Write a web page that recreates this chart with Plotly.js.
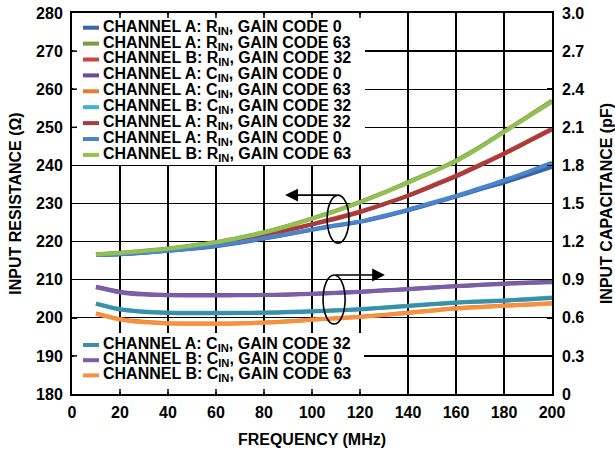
<!DOCTYPE html>
<html>
<head>
<meta charset="utf-8">
<script src="https://cdn.plot.ly/plotly-3.0.1.min.js"></script>
<style>html,body{margin:0;padding:0;background:#fff;}#chart{width:615px;height:450px;}</style>
</head>
<body>
<div id="chart"></div>
<script>
// ---- data ----
const freqMHz = [10,20,30,40,50,60,70,80,90,100,110,120,130,140,150,160,170,180,190,200];

// input resistance (ohm)
const rinA_gain0  = [216.5,216.7,217.1,217.6,218.1,218.8,219.7,220.8,221.9,223.1,224.2,225.2,226.6,228.2,230.0,231.8,233.7,235.5,237.5,239.6];
const rinA_gain63 = [216.7,217.1,217.6,218.2,219.0,219.9,221.1,222.5,224.2,226.1,228.1,230.4,232.9,235.6,238.3,241.3,244.9,248.9,252.9,257.0];
const rinB_gain32 = [216.6,216.9,217.3,217.9,218.6,219.4,220.4,221.7,223.1,224.6,226.2,227.9,229.9,232.1,234.7,237.3,240.2,243.2,246.4,249.7];
const rinA_gain32 = [216.5,216.8,217.2,217.8,218.5,219.3,220.3,221.6,223.0,224.5,226.0,227.7,229.8,232.0,234.5,237.1,240.0,243.0,246.2,249.4];
const rinB_gain0  = [216.5,216.7,217.1,217.6,218.2,218.9,219.8,220.9,222.0,223.2,224.3,225.3,226.8,228.4,230.2,232.0,234.0,236.1,238.3,240.7];
const rinB_gain63 = [216.6,217.0,217.5,218.1,218.9,219.8,221.0,222.4,224.1,226.0,228.0,230.3,232.8,235.4,238.2,241.1,244.7,248.7,252.7,256.7];

// input capacitance (pF)
const cinA_gain0  = [0.845,0.806,0.787,0.780,0.779,0.779,0.779,0.780,0.784,0.790,0.797,0.806,0.816,0.827,0.838,0.850,0.860,0.870,0.877,0.884];
const cinA_gain63 = [0.635,0.590,0.568,0.558,0.555,0.555,0.557,0.563,0.573,0.586,0.597,0.609,0.623,0.640,0.658,0.675,0.686,0.696,0.705,0.714];
const cinB_gain32 = [0.714,0.670,0.650,0.642,0.640,0.640,0.640,0.642,0.647,0.653,0.660,0.669,0.682,0.695,0.709,0.722,0.730,0.737,0.748,0.760];
const cinA_gain32 = [0.710,0.665,0.646,0.638,0.636,0.636,0.637,0.639,0.643,0.650,0.657,0.666,0.679,0.692,0.706,0.719,0.727,0.734,0.745,0.756];
const cinB_gain0  = [0.840,0.800,0.783,0.777,0.776,0.776,0.777,0.779,0.782,0.788,0.795,0.804,0.814,0.825,0.836,0.848,0.858,0.867,0.874,0.880];
const cinB_gain63 = [0.632,0.587,0.565,0.556,0.553,0.553,0.555,0.561,0.571,0.584,0.595,0.607,0.621,0.638,0.656,0.673,0.684,0.694,0.703,0.712];

const seriesNames = [
  'CHANNEL A: R<sub>IN</sub>, GAIN CODE 0',
  'CHANNEL A: R<sub>IN</sub>, GAIN CODE 63',
  'CHANNEL B: R<sub>IN</sub>, GAIN CODE 32',
  'CHANNEL A: C<sub>IN</sub>, GAIN CODE 0',
  'CHANNEL A: C<sub>IN</sub>, GAIN CODE 63',
  'CHANNEL B: C<sub>IN</sub>, GAIN CODE 32',
  'CHANNEL A: R<sub>IN</sub>, GAIN CODE 32',
  'CHANNEL A: R<sub>IN</sub>, GAIN CODE 0',
  'CHANNEL B: R<sub>IN</sub>, GAIN CODE 63',
  'CHANNEL A: C<sub>IN</sub>, GAIN CODE 32',
  'CHANNEL B: C<sub>IN</sub>, GAIN CODE 0',
  'CHANNEL B: C<sub>IN</sub>, GAIN CODE 63'
];
const seriesValues = [rinA_gain0, rinA_gain63, rinB_gain32, cinA_gain0, cinA_gain63, cinB_gain32,
                      rinA_gain32, rinB_gain0, rinB_gain63, cinA_gain32, cinB_gain0, cinB_gain63];
const seriesAxis = ['y','y','y','y2','y2','y2','y','y','y','y2','y2','y2'];
const seriesColors = ['#3d65a5','#7d9b3e','#cd4541','#6a4d9a','#dd7f2e','#3db5cf',
                      '#a93c3a','#4a84cc','#91c152','#3a90a8','#7b5ea8','#f5913f'];

const resTicks = [180,190,200,210,220,230,240,250,260,270,280];
const capTickVals = [0,0.3,0.6,0.9,1.2,1.5,1.8,2.1,2.4,2.7,3.0];
const capTickText = ['0','0.3','0.6','0.9','1.2','1.5','1.8','2.1','2.4','2.7','3.0'];
const freqTicks = [0,20,40,60,80,100,120,140,160,180,200];

// ---- layout helpers (pixel geometry of the plot area) ----
const W = 615, H = 450;
const M = {l:72, r:63, t:13, b:56};
const PW = W - M.l - M.r, PH = H - M.t - M.b;
const px = v => (v - M.l) / PW;
const py = v => (H - M.b - v) / PH;

const FONT = 'Liberation Sans, Arial, Helvetica, sans-serif';

const traces = seriesValues.map((vals, i) => ({
  x: freqMHz, y: vals, yaxis: seriesAxis[i], name: seriesNames[i],
  type: 'scatter', mode: 'lines',
  line: {color: seriesColors[i], width: 4, shape: 'spline', smoothing: 0.8},
  showlegend: false, hoverinfo: 'skip'
}));

// custom legends (two boxes, tight line spacing like the reference)
const topIdx = [0,1,2,3,4,5,6,7,8];
const botIdx = [9,10,11];
const shapes = [
  {type:'rect', xref:'paper', yref:'paper', layer:'above', x0:px(73.5), x1:px(365), y0:py(165), y1:py(14.5),
   fillcolor:'#fff', line:{width:0}},
  {type:'rect', xref:'paper', yref:'paper', layer:'above', x0:px(73.5), x1:px(364), y0:py(392.5), y1:py(333),
   fillcolor:'#fff', line:{width:0}},
  // ellipses grouping the curves
  {type:'circle', xref:'x', yref:'y', x0:106.3, x1:115.4, y0:219.6, y1:232.2, line:{color:'#000', width:1.6}},
  {type:'circle', xref:'x', yref:'y2', x0:104.6, x1:113.8, y0:0.551, y1:0.937, line:{color:'#000', width:1.6}}
];
// small inside ticks that stay visible inside the legend boxes
[250,260,270].forEach(v => shapes.push({type:'line', xref:'paper', yref:'y', x0:px(72), x1:px(77), y0:v, y1:v,
  line:{color:'#000', width:1.5}}));
[190].forEach(v => shapes.push({type:'line', xref:'paper', yref:'y', x0:px(72), x1:px(77), y0:v, y1:v,
  line:{color:'#000', width:1.5}}));
[20,40,60,80,100,120].forEach(v => shapes.push({type:'line', xref:'x', yref:'paper', x0:v, x1:v, y0:py(13), y1:py(18),
  line:{color:'#000', width:1.5}}));
[20,40,60,80,100,120].forEach(v => shapes.push({type:'line', xref:'x', yref:'paper', x0:v, x1:v, y0:py(394), y1:py(389),
  line:{color:'#000', width:1.5}}));

const annotations = [];
function addLegend(idxList, y0, step) {
  idxList.forEach((k, j) => {
    const yc = y0 + step * j;
    shapes.push({type:'line', xref:'paper', yref:'paper', x0:px(83), x1:px(99), y0:py(yc), y1:py(yc),
                 line:{color: seriesColors[k], width: 4}});
    annotations.push({xref:'paper', yref:'paper', x:px(102), y:py(yc - 0.5), xanchor:'left', yanchor:'middle',
                      text: seriesNames[k], showarrow:false, borderpad:0,
                      font:{family:FONT, size:16, weight:700, color:'#000'}});
  });
}
addLegend(topIdx, 27.7, 15.9);
addLegend(botIdx, 345, 15.2);

// arrows pointing to the axis each group belongs to
annotations.push({xref:'x', yref:'y', axref:'x', ayref:'y', x:88.8, y:232.2, ax:110.8, ay:232.2,
  showarrow:true, arrowhead:2, arrowsize:1.6, arrowwidth:1.6, arrowcolor:'#000', text:''});
annotations.push({xref:'x', yref:'y2', axref:'x', ayref:'y2', x:130.4, y:0.937, ax:109.2, ay:0.937,
  showarrow:true, arrowhead:2, arrowsize:1.6, arrowwidth:1.6, arrowcolor:'#000', text:''});

const tickFont = {family:FONT, size:16, weight:700, color:'#000'};
const titleFont = {family:FONT, size:16, weight:700, color:'#000'};

const layout = {
  width: W, height: H,
  margin: {l:M.l, r:M.r, t:M.t, b:M.b, pad:0},
  paper_bgcolor:'#fff', plot_bgcolor:'#fff',
  showlegend:false,
  font:{family:FONT, color:'#000'},
  xaxis: {
    range:[0,200], tickvals:freqTicks, ticktext:freqTicks.map(String),
    showgrid:true, gridcolor:'#000', gridwidth:1.3,
    showline:true, linecolor:'#000', linewidth:2, mirror:'ticks',
    ticks:'inside', ticklen:5, tickwidth:1.5, tickcolor:'#000',
    tickfont:tickFont, zeroline:false, fixedrange:true, ticklabelstandoff:3,
    title:{text:'FREQUENCY (MHz)', font:titleFont, standoff:14}
  },
  yaxis: {
    range:[180,280], tickvals:resTicks, ticktext:resTicks.map(String),
    showgrid:true, gridcolor:'#000', gridwidth:1.3,
    showline:true, linecolor:'#000', linewidth:2, mirror:'ticks',
    ticks:'inside', ticklen:5, tickwidth:1.5, tickcolor:'#000',
    tickfont:tickFont, zeroline:false, fixedrange:true, ticklabelstandoff:4,
    title:{text:'INPUT RESISTANCE (Ω)', font:titleFont, standoff:10}
  },
  yaxis2: {
    overlaying:'y', side:'right', range:[0,3],
    tickvals:capTickVals, ticktext:capTickText,
    showgrid:false, showline:false, ticks:'', zeroline:false,
    tickfont:tickFont, fixedrange:true, ticklabelstandoff:9,
    title:{text:'INPUT CAPACITANCE (pF)', font:titleFont, standoff:19}
  },
  shapes: shapes,
  annotations: annotations
};

Plotly.newPlot('chart', traces, layout, {displayModeBar:false, staticPlot:true});
</script>
</body>
</html>
